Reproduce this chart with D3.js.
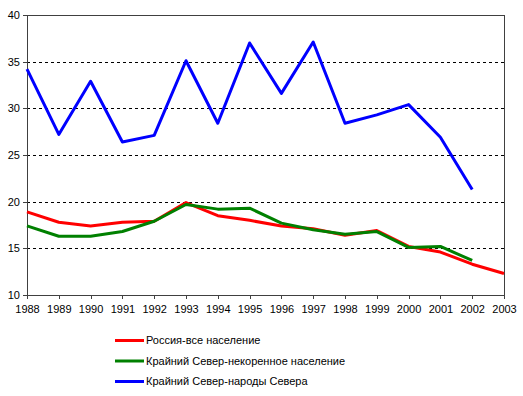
<!DOCTYPE html>
<html>
<head>
<meta charset="utf-8">
<script src="https://cdn.jsdelivr.net/npm/d3@7"></script>
<style>
  body { margin: 0; background: #fff; }
  svg { display: block; font-family: "Liberation Sans", Arial, sans-serif; }
</style>
</head>
<body>
<svg></svg>
<script>
let years = [1988, 1989, 1990, 1991, 1992, 1993, 1994, 1995, 1996, 1997, 1998, 1999, 2000, 2001, 2002, 2003]
let russiaAll = [18.9, 17.8, 17.4, 17.8, 17.9, 19.9, 18.5, 18.0, 17.4, 17.1, 16.4, 16.9, 15.2, 14.6, 13.3, 12.3]
let northNonNative = [17.4, 16.3, 16.3, 16.8, 17.9, 19.7, 19.2, 19.3, 17.7, 17.0, 16.5, 16.8, 15.1, 15.2, 13.7, null]
let northPeoples = [34.2, 27.2, 32.9, 26.4, 27.1, 35.1, 28.4, 37.0, 31.6, 37.1, 28.4, 29.3, 30.4, 26.9, 21.3, null]
let yTicks = [10, 15, 20, 25, 30, 35, 40]

let series = [
    { name: 'Россия-все население', values: russiaAll, color: '#ff0000' },
    { name: 'Крайний Север-некоренное население', values: northNonNative, color: '#008000' },
    { name: 'Крайний Север-народы Севера', values: northPeoples, color: '#0000ff' }
]

let width = 523
let height = 396
let plotLeft = 27, plotRight = 504, plotTop = 15, plotBottom = 295

let svg = d3.select('svg')
    .attr('width', width)
    .attr('height', height)

let xScale = d3.scalePoint()
    .domain(years)
    .range([plotLeft, plotRight])

let yScale = d3.scaleLinear()
    .domain([10, 40])
    .range([plotBottom, plotTop])

// gridlines
svg.append('g')
    .selectAll('line')
    .data(yTicks.filter(d => d > 10 && d < 40))
    .enter()
    .append('line')
    .attr('x1', plotLeft)
    .attr('x2', plotRight)
    .attr('y1', d => yScale(d) + 0.5)
    .attr('y2', d => yScale(d) + 0.5)
    .attr('stroke', '#000')
    .attr('stroke-dasharray', '3,3')
    .attr('shape-rendering', 'crispEdges')

// plot border (top and right)
svg.append('path')
    .attr('d', `M${plotLeft},${plotTop + 0.5}H${plotRight + 0.5}V${plotBottom}`)
    .attr('fill', 'none')
    .attr('stroke', '#404040')
    .attr('shape-rendering', 'crispEdges')

// axes
let xAxis = d3.axisBottom(xScale).tickSize(4).tickPadding(6)
let yAxis = d3.axisLeft(yScale).tickValues(yTicks).tickSize(4).tickPadding(3)

svg.append('g')
    .attr('transform', `translate(0, ${plotBottom})`)
    .call(xAxis)
svg.append('g')
    .attr('transform', `translate(${plotLeft}, 0)`)
    .call(yAxis)

svg.selectAll('.domain, .tick line')
    .attr('stroke', '#404040')
    .attr('shape-rendering', 'crispEdges')
svg.selectAll('.tick text')
    .attr('fill', '#000')
    .style('font-size', '11px')
    .style('font-family', '"Liberation Sans", Arial, sans-serif')

// lines
let line = d3.line()
    .defined(d => d[1] != null)
    .x(d => xScale(d[0]))
    .y(d => yScale(d[1]))

series.forEach(s => {
    svg.append('path')
        .datum(years.map((y, i) => [y, s.values[i]]))
        .attr('d', line)
        .attr('fill', 'none')
        .attr('stroke', s.color)
        .attr('stroke-width', 3)
        .attr('stroke-linejoin', 'round')
})

// legend
let legend = svg.append('g')
    .selectAll('g')
    .data(series)
    .enter()
    .append('g')
    .attr('transform', (d, i) => `translate(115, ${340.5 + i * 20.5})`)

legend.append('line')
    .attr('x1', 0)
    .attr('x2', 29)
    .attr('stroke', d => d.color)
    .attr('stroke-width', 3)

legend.append('text')
    .attr('x', 31)
    .attr('dy', '0.35em')
    .style('font-size', '11px')
    .text(d => d.name)
</script>
</body>
</html>
